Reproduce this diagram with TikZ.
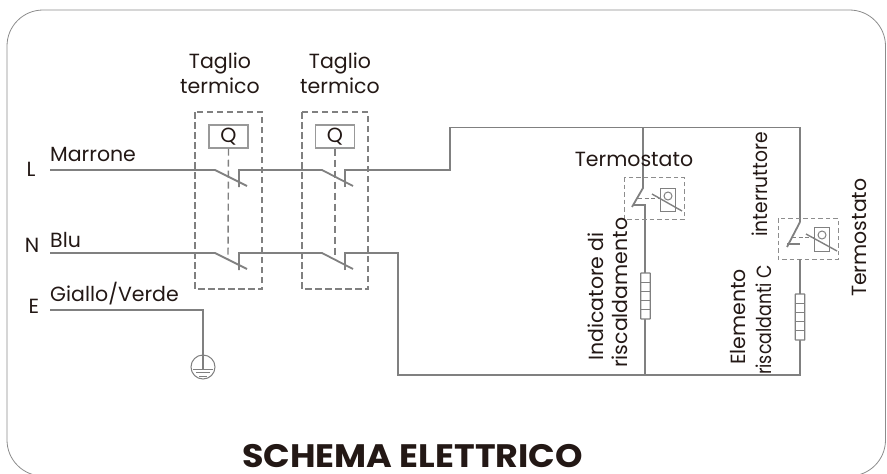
\documentclass[tikz,border=0pt]{standalone}
\usepackage{fontspec}
\setmainfont{Poppins}
\definecolor{wirec}{HTML}{808080}
\definecolor{inkc}{HTML}{231815}
\tikzset{
 wire/.style={draw=wirec,line width=1.8pt,line join=miter},
 thin wire/.style={draw=wirec,line width=1pt},
 dbox/.style={draw=wirec,line width=1.4pt,dash pattern=on 6.5pt off 3.5pt},
 sbox/.style={draw=wirec!90,line width=1pt,dash pattern=on 4.5pt off 3pt},
 qbox/.style={draw=wirec!80,line width=1.4pt,fill=white,minimum width=39pt,minimum height=23pt,inner sep=0pt,font=\fontsize{20.5}{20}\selectfont,text=inkc},
 lab/.style={text=inkc,font=\fontsize{20.5}{24}\selectfont,inner sep=0pt},
 rot/.style={lab,rotate=90},
 res/.style={draw=wirec,line width=1.4pt,fill=white,rounded corners=0.5pt,minimum width=9.5pt,minimum height=46pt,inner sep=0pt},
}
\newcommand{\rescells}[1]{\foreach \d in {-13.8,-4.6,4.6,13.8}{\draw[draw=wirec,line width=1.2pt] ([yshift=\d pt]#1.west) -- ([yshift=\d pt]#1.east);}}
\begin{document}
\begin{tikzpicture}[x=1pt,y=-1pt]
\useasboundingbox (0,0) rectangle (887,474);
\begin{scope}
\clip (0,0) rectangle (887,474);
\draw[draw=black!45,line width=0.8pt,rounded corners=36pt] (7,10) rectangle (885.5,476);
\end{scope}

% dashed housings
\draw[dbox] (195,112) rectangle (262,289);
\draw[dbox] (302,112) rectangle (368,289);
% mechanical links
\node[qbox] (q1) at (228.5,136.5) {Q};
\node[qbox] (q2) at (335,136.5) {Q};
\coordinate (l1) at (228,259);
\coordinate (l2) at (335,259);
\draw[wirec,line width=1.4pt,dash pattern=on 7pt off 4pt] (q1.south) -- (l1);
\draw[wirec,line width=1.4pt,dash pattern=on 7pt off 4pt] (q2.south) -- (l2);

% input terminals and junctions
\coordinate (Ls) at (50,170);
\coordinate (Ns) at (50,253);
\coordinate (Es) at (50,310);
\coordinate (Ec) at (203,310);
\coordinate (gnd) at (203,367);
\coordinate (a1) at (215,170); \coordinate (a1e) at (247,186);
\coordinate (b1) at (239,187); \coordinate (b1t) at (239,170);
\coordinate (a2) at (322,170); \coordinate (a2e) at (353,186);
\coordinate (b2) at (345,187); \coordinate (b2t) at (345,170);
\coordinate (c1) at (215,253); \coordinate (c1e) at (247,269);
\coordinate (d1) at (239,270); \coordinate (d1t) at (239,253);
\coordinate (c2) at (322,253); \coordinate (c2e) at (353,269);
\coordinate (d2) at (345,270); \coordinate (d2t) at (345,253);
\coordinate (up) at (450,170); \coordinate (uptop) at (450,127.5);
\coordinate (tr) at (800,127.5);
\coordinate (nd) at (398,253); \coordinate (nb) at (398,375);
\coordinate (br) at (800,375);

% L line
\draw[wire] (Ls) -- (a1) -- (a1e);
\draw[wire] (b1) -- (b1t) -- (a2) -- (a2e);
\draw[wire] (b2) -- (b2t) -- (up) -- (uptop) -- (tr) -- (800,222);
% N line
\draw[wire] (Ns) -- (c1) -- (c1e);
\draw[wire] (d1) -- (d1t) -- (c2) -- (c2e);
\draw[wire] (d2) -- (d2t) -- (nd) -- (nb) -- (br) -- (800,340);
% earth
\draw[wire] (Es) -- (Ec) -- (203,355);
\node[circle,draw=wirec,line width=1pt,minimum size=24pt,inner sep=0pt] (g) at (gnd) {};
\draw[wire] (203,355) -- (203,369);
\draw[thin wire] (193,369) -- (213,369);
\draw[thin wire] (196,372.5) -- (210,372.5);
\draw[thin wire] (199,376) -- (207,376);

% branch 1: thermostat and indicator
\draw[wire] (643,127.5) -- (643,188) -- (632,207);
\draw[wire] (633,205) -- (645,205) -- (645,375);
\draw[sbox] (624,177) rectangle (684,219);
\draw[wirec,line width=1pt] (660,188) rectangle (675,211);
\draw[wirec,line width=1pt] (668,196) circle (4);
\draw[wire,line width=1.4pt] (652,194) -- (682,211);
\draw[wirec,line width=1pt,dash pattern=on 4pt off 2.5pt] (638,198) -- (660,198);
\node[res] (r1) at (645.5,296) {};
\rescells{r1}

% branch 2: thermostat and element
\draw[wire] (800,222) -- (787,247);
\draw[wire] (787,244) -- (800,244);
\draw[sbox] (778,218) rectangle (838,259);
\draw[wirec,line width=1pt] (814,227) rectangle (829,251);
\draw[wirec,line width=1pt] (822,235) circle (4);
\draw[wire,line width=1.4pt] (806,234) -- (837,251);
\draw[wirec,line width=1pt,dash pattern=on 4pt off 2.5pt] (792,237) -- (814,237);
\draw[wire] (800,259) -- (800,340);
\node[res] (r2) at (800,317) {};
\rescells{r2}

% labels
\node[lab,anchor=base] (tt1a) at (220,68) {Taglio};
\node[lab,anchor=base] (tt1b) at (220,93) {termico};
\node[lab,anchor=base] (tt2a) at (340,68) {Taglio};
\node[lab,anchor=base] (tt2b) at (340,93) {termico};
\node[lab,anchor=base west] (marrone) at (50,161) {Marrone};
\node[lab,anchor=base west] (blu) at (50,247) {Blu};
\node[lab,anchor=base west] (gv) at (50,301) {Giallo/Verde};
\node[lab,anchor=base] (L) at (31,176) {L};
\node[lab,anchor=base] (N) at (32,252) {N};
\node[lab,anchor=base] (E) at (34,313) {E};
\node[lab,anchor=base] (t1) at (634,166) {Termostato};
\node[rot,anchor=base west] (ind) at (603,361) {Indicatore di};
\node[rot,anchor=base west] (ris) at (627,368) {riscaldamento};
\node[rot,anchor=base west] (el) at (745,365) {Elemento};
\node[rot,anchor=base west] (ris2) at (771,375) {\scalebox{0.85}[1]{riscaldanti C}};
\node[rot,anchor=base west] (int) at (767,237) {\scalebox{0.91}[1]{interruttore}};
\node[rot,anchor=base west] (t2) at (866,297) {Termostato};
\node[text=inkc,inner sep=0pt,font=\fontsize{32.5}{34}\selectfont\bfseries,anchor=base] (title) at (412.5,467.5) {\scalebox{1.075}[1]{SCHEMA ELETTRICO}};
\end{tikzpicture}
\end{document}
